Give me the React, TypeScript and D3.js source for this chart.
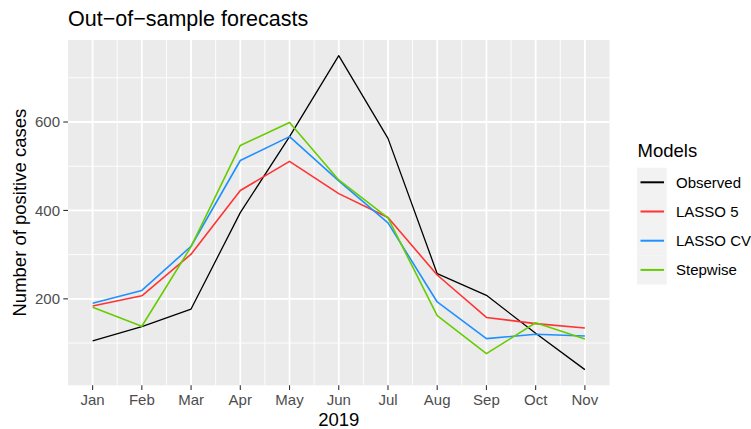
import * as d3 from "d3";

// Forecast values
const months = ["Jan", "Feb", "Mar", "Apr", "May", "Jun", "Jul", "Aug", "Sep", "Oct", "Nov"];
const observed = [105, 137, 177, 395, 567, 750, 563, 257, 208, 122, 40];
const lasso5 = [184, 207, 301, 445, 511, 438, 384, 254, 158, 144, 134];
const lassoCV = [190, 219, 319, 513, 567, 467, 372, 193, 110, 120, 116];
const stepwise = [181, 138, 318, 547, 599, 469, 383, 162, 76, 146, 109];
const modelNames = ["Observed", "LASSO 5", "LASSO CV", "Stepwise"];
const modelColors = ["#000000", "#FF3333", "#1E90FF", "#66CC00"];
const yTicks = [200, 400, 600];
const yMinor = [100, 300, 500, 700];

const width = 751,
    height = 429;
const panel = {left: 68, right: 609.5, top: 40, bottom: 385.3};
const font = "Liberation Sans, Arial, Helvetica, sans-serif";

function App() {
    const series = [observed, lasso5, lassoCV, stepwise];

    // ggplot style 5% expansion on both axes
    const allValues = series.flat();
    const yMin = d3.min(allValues)!, yMax = d3.max(allValues)!;
    const yPad = (yMax - yMin) * 0.05;
    const y = d3.scaleLinear()
        .domain([yMin - yPad, yMax + yPad])
        .range([panel.bottom, panel.top]);

    const n = months.length;
    const xPad = (n - 1) * 0.05;
    const x = d3.scaleLinear()
        .domain([-xPad, n - 1 + xPad])
        .range([panel.left, panel.right]);

    const line = d3.line<number>()
        .x((d, i) => x(i))
        .y(d => y(d));

    const xMinor = d3.range(0.5, n - 1, 1);

    return (
        <svg width={width} height={height} style={{position: "absolute", left: 0, top: 0}} fontFamily={font}>
            <rect x={0} y={0} width={width} height={height} fill="white"/>
            {/* panel background */}
            <rect x={panel.left} y={panel.top} width={panel.right - panel.left}
                  height={panel.bottom - panel.top} fill="#EBEBEB"/>
            {/* minor grid */}
            {yMinor.map(v => (
                <line key={"ym" + v} x1={panel.left} x2={panel.right} y1={y(v)} y2={y(v)}
                      stroke="white" strokeWidth={0.9}/>
            ))}
            {xMinor.map(v => (
                <line key={"xm" + v} x1={x(v)} x2={x(v)} y1={panel.top} y2={panel.bottom}
                      stroke="white" strokeWidth={0.9}/>
            ))}
            {/* major grid */}
            {yTicks.map(v => (
                <line key={"yM" + v} x1={panel.left} x2={panel.right} y1={y(v)} y2={y(v)}
                      stroke="white" strokeWidth={1.8}/>
            ))}
            {months.map((m, i) => (
                <line key={"xM" + m} x1={x(i)} x2={x(i)} y1={panel.top} y2={panel.bottom}
                      stroke="white" strokeWidth={1.8}/>
            ))}

            {/* lines */}
            {series.map((s, k) => (
                <path key={modelNames[k]} d={line(s) || ""} fill="none" stroke={modelColors[k]}
                      strokeWidth={k === 0 ? 1.3 : 1.6} strokeLinejoin="round"/>
            ))}

            {/* y axis */}
            {yTicks.map(v => (
                <g key={"yt" + v}>
                    <line x1={panel.left - 4.7} x2={panel.left} y1={y(v)} y2={y(v)} stroke="#333333" strokeWidth={1.1}/>
                    <text x={panel.left - 8} y={y(v)} dy="0.36em" textAnchor="end" fontSize={15}
                          fill="#4D4D4D">{v}</text>
                </g>
            ))}
            {/* x axis */}
            {months.map((m, i) => (
                <g key={"xt" + m}>
                    <line x1={x(i)} x2={x(i)} y1={panel.bottom} y2={panel.bottom + 4.7} stroke="#333333" strokeWidth={1.1}/>
                    <text x={x(i)} y={404.5} textAnchor="middle" fontSize={15} fill="#4D4D4D">{m}</text>
                </g>
            ))}

            {/* titles */}
            <text x={panel.left} y={25.5} fontSize={21.5} fill="black">Out−of−sample forecasts</text>
            <text x={(panel.left + panel.right) / 2} y={426} textAnchor="middle" fontSize={18.5}
                  fill="black">2019</text>
            <text transform={`translate(26,${(panel.top + panel.bottom) / 2}) rotate(-90)`} textAnchor="middle"
                  fontSize={18.5} fill="black">Number of positive cases</text>

            {/* legend */}
            <text x={637.5} y={157} fontSize={18.5} fill="black">Models</text>
            {modelNames.map((name, k) => {
                const top = 167.7 + k * 29.2;
                return (
                    <g key={"lg" + name}>
                        <rect x={637} y={top} width={29.7} height={29.2} fill="#F2F2F2"/>
                        <line x1={640.5} x2={664} y1={top + 14.6} y2={top + 14.6} stroke={modelColors[k]}
                              strokeWidth={2}/>
                        <text x={676} y={top + 14.6} dy="0.36em" fontSize={15} fill="black">{name}</text>
                    </g>
                );
            })}
        </svg>
    );
}

export default App;
